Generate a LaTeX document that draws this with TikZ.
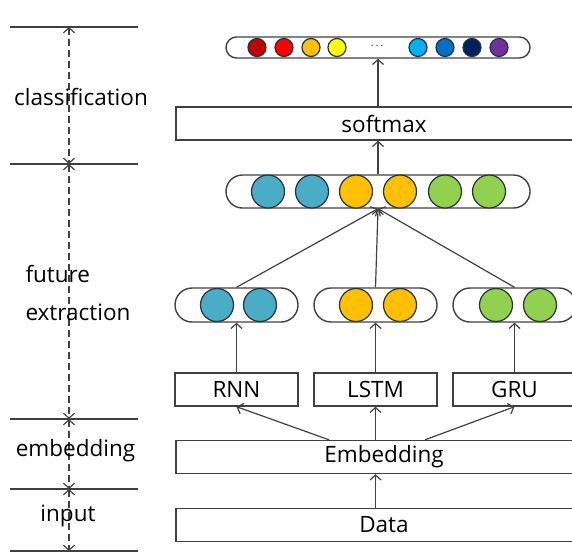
\documentclass[tikz,border=0pt]{standalone}
\usepackage{fontspec}
\setmainfont{Open Sans}
\usetikzlibrary{arrows.meta,calc}

\definecolor{linegray}{HTML}{404040}
\definecolor{balledge}{HTML}{26323C}
\definecolor{rnnblue}{HTML}{4BACC6}
\definecolor{lstmorange}{HTML}{FFC000}
\definecolor{grugreen}{HTML}{92D050}
\definecolor{cdarkred}{HTML}{C00000}
\definecolor{cred}{HTML}{FF0000}
\definecolor{corange}{HTML}{FFC000}
\definecolor{cyellow}{HTML}{FFFF00}
\definecolor{clightblue}{HTML}{00B0F0}
\definecolor{cblue}{HTML}{0070C0}
\definecolor{cnavy}{HTML}{002060}
\definecolor{cpurple}{HTML}{7030A0}

\begin{document}
\begin{tikzpicture}[x=1pt, y=-1pt, font=\fontsize{22.5}{27}\selectfont,
    box/.style={draw=linegray, line width=1.4pt, minimum height=33pt, inner sep=0pt},
    capsule/.style={draw=linegray, line width=1.4pt, inner sep=0pt},
    ball/.style={circle, draw=balledge, line width=1.2pt, inner sep=0pt, minimum size=33pt},
    dot/.style={ball, minimum size=18pt},
    arr/.style={draw=linegray, line width=1.2pt, -{Straight Barb[length=5pt,width=11pt]}},
    dim/.style={draw=linegray, line width=1.2pt, dash pattern=on 7pt off 4pt,
      {Straight Barb[length=5pt,width=11pt]}-{Straight Barb[length=5pt,width=11pt]}}]
  \clip (0,0) rectangle (572,552);

  % left: stage ruler
  \foreach \y [count=\i from 0] in {27,164,419,489,551} {
    \coordinate (d\i) at (69,\y);
    \draw [linegray, line width=1.3pt] (10,\y) -- (138,\y);
  }
  \draw [dim] (d0) -- (d1);
  \draw [dim] (d1) -- (d2);
  \draw [dim] (d2) -- (d3);
  \draw [dim] (d3) -- (d4);
  \node (cls) at (81,97) {classification};
  \node [anchor=west] (fut) at (22,274) {future};
  \node [anchor=west] (ext) at (22,312) {extraction};
  \node (emblab) at (75.5,451) {embedding};
  \node (inlab) at (68,516) {input};

  % right: network
  \node [box, minimum width=416pt] (data) at (384,525) {Data};
  \node [box, minimum width=416pt] (emb) at (384,457) {Embedding};
  \node [box, minimum width=123pt] (rnn) at (236.5,389.5) {RNN};
  \node [box, minimum width=123pt] (lstm) at (375.5,389.5) {LSTM};
  \node [box, minimum width=123pt] (gru) at (514.5,389.5) {GRU};
  \node [box, minimum width=416pt] (soft) at (384,123.5) {softmax};

  \node [capsule, rounded corners=17pt, minimum width=123pt, minimum height=34pt] (lcap) at (236.5,305) {};
  \node [capsule, rounded corners=17pt, minimum width=123pt, minimum height=34pt] (ccap) at (375.5,305) {};
  \node [capsule, rounded corners=17pt, minimum width=123pt, minimum height=34pt] (rcap) at (514.5,305) {};
  \node [capsule, rounded corners=16.5pt, minimum width=304pt, minimum height=33pt] (mid) at (378,191.5) {};
  \node [capsule, rounded corners=10.5pt, minimum width=304pt, minimum height=21pt] (top) at (378,47.5) {};

  \foreach \x/\c [count=\i] in {217/rnnblue,260/rnnblue,356/lstmorange,400/lstmorange,496/grugreen,540/grugreen}
    \node [ball, fill=\c] (b\i) at (\x,305) {};
  \foreach \x/\c [count=\i] in {268/rnnblue,312/rnnblue,356/lstmorange,400/lstmorange,445/grugreen,489/grugreen}
    \node [ball, fill=\c] (m\i) at (\x,191.5) {};
  \foreach \x/\c [count=\i] in {257/cdarkred,284/cred,311/corange,337/cyellow,418/clightblue,445/cblue,472/cnavy,499/cpurple}
    \node [dot, fill=\c] (t\i) at (\x,47.5) {};
  \node [text=linegray] (ell) at (377,46) {\fontsize{11}{11}\selectfont .\,.\,.};

  \draw [arr] (lstm.south |- data.north) -- (lstm.south |- emb.south);
  \draw [arr] ([xshift=-55pt]emb.north) -- (rnn.south);
  \draw [arr] (lstm.south |- emb.north) -- (lstm.south);
  \draw [arr] ([xshift=41pt]emb.north) -- (gru.south);
  \draw [arr] (rnn.north) -- (lcap.south);
  \draw [arr] (lstm.north) -- (ccap.south);
  \draw [arr] (gru.north) -- (rcap.south);
  \draw [arr] (lcap.north) -- (mid.south);
  \draw [arr] (ccap.north) -- (mid.south);
  \draw [arr] (rcap.north) -- (mid.south);
  \draw [arr] (mid.north) -- (mid.north |- soft.south);
  \draw [arr] (top.south |- soft.north) -- (top.south);
\end{tikzpicture}
\end{document}
